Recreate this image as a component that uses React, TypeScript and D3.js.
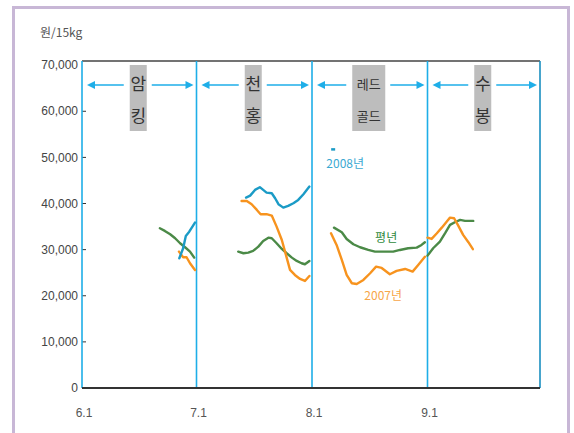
import React from 'react';
import * as d3 from 'd3';

// ---- data ----
const monthTickLabels = ['6.1', '7.1', '8.1', '9.1'];
const monthTickDays = [0, 30, 61, 92];
const seasonEndDay = 122;
const yTickValues = [0, 10000, 20000, 30000, 40000, 50000, 60000, 70000];

const varietyNames = [['암', '킹'], ['천', '홍'], ['레드', '골드'], ['수', '봉']];
const varietyStartDays = [0, 30, 61, 92];
const varietyEndDays = [30, 61, 92, 122];

// [day since 6/1, won per 15kg]
const amking2008: [number, number][] = [
  [25.5, 28130], [26.5, 30300], [27.2, 32970], [28.1, 33900], [29.6, 35860],
];
const amking2007: [number, number][] = [
  [25.4, 29570], [26.5, 28350], [27.4, 28350], [28.3, 27050], [29.6, 25600],
];
const amkingNormal: [number, number][] = [
  [20.4, 34640], [21.7, 34060], [23.1, 33340], [24.4, 32470], [25.7, 31390],
  [27.0, 30520], [28.3, 29570], [29.4, 28270],
];

const cheonhong2008: [number, number][] = [
  [43.3, 41280], [44.4, 41710], [45.7, 42950], [47.0, 43540], [47.9, 42950],
  [48.8, 42360], [50.2, 42230], [51.1, 41150], [52.0, 39850], [53.3, 39110],
  [54.6, 39480], [56.0, 40060], [57.3, 40780], [58.7, 42020], [60.3, 43670],
];
const cheonhong2007: [number, number][] = [
  [42.1, 40560], [43.5, 40560], [44.8, 39850], [46.2, 38610], [47.2, 37680],
  [48.8, 37680], [50.2, 37380], [51.5, 34990], [52.9, 32100], [54.0, 28850],
  [55.1, 25600], [56.4, 24510], [57.8, 23640], [59.1, 23210], [60.3, 24300],
];
const cheonhongNormal: [number, number][] = [
  [41.2, 29570], [42.6, 29220], [43.9, 29350], [45.2, 29720], [46.6, 30650],
  [47.9, 31890], [49.3, 32600], [50.2, 32470], [51.5, 31390], [52.9, 30150],
  [54.2, 29220], [55.6, 28270], [56.9, 27550], [58.2, 27050], [59.1, 26830],
  [60.3, 27550],
];

const redgold2007: [number, number][] = [
  [66.1, 33560], [67.6, 31020], [69.0, 27770], [70.3, 24510], [71.7, 22710],
  [73.0, 22560], [74.8, 23430], [76.6, 24880], [78.2, 26310], [79.7, 26030],
  [81.9, 24660], [83.7, 25380], [86.0, 25810], [88.0, 25230], [89.5, 26680],
  [91.3, 28480],
];
const redgoldNormal: [number, number][] = [
  [66.9, 34770], [69.0, 33770], [70.3, 32320], [72.1, 31170], [73.9, 30520],
  [76.1, 29930], [77.9, 29570], [79.9, 29570], [82.8, 29570], [84.6, 29930],
  [86.8, 30300], [89.1, 30430], [90.4, 31020], [91.3, 31610],
];

const subong2007: [number, number][] = [
  [92.0, 32600], [93.1, 32320], [94.5, 33560], [95.8, 34770], [97.1, 36070],
  [98.0, 36940], [99.1, 36810], [100.2, 35210], [101.5, 33190], [102.9, 31610],
  [104.1, 30090],
];
const subongNormal: [number, number][] = [
  [92.0, 28700], [93.5, 30300], [95.3, 31740], [96.7, 33560], [98.0, 35360],
  [99.3, 35940], [100.7, 36440], [102.0, 36230], [104.2, 36230],
];

const seriesNames = ['2008년', '평년', '2007년'];
const seriesLabelDays = [69.9, 80.9, 80.1];
const seriesLabelValues = [48700, 32600, 19900];

const C2008 = '#1b9bc6';
const C2007 = '#f7931e';
const CNORM = '#4b8a47';
const CCYAN = '#1eaee8';

export default function App() {
  const W = 574, H = 433;
  const x = d3.scaleLinear()
    .domain([...monthTickDays, seasonEndDay])
    .range([82, 196.5, 312, 427.5, 540]);
  const y = d3.scaleLinear().domain([0, 70900]).range([388, 61]);
  const line = d3.line<[number, number]>().x(d => x(d[0])).y(d => y(d[1]));

  const sets: [[number, number][], string][] = [
    [amkingNormal, CNORM], [amking2007, C2007], [amking2008, C2008],
    [cheonhongNormal, CNORM], [cheonhong2007, C2007], [cheonhong2008, C2008],
    [redgoldNormal, CNORM], [redgold2007, C2007],
    [subongNormal, CNORM], [subong2007, C2007],
  ];

  const x0 = x(0), x1 = x(seasonEndDay), yTop = y.range()[1], yBot = y(0);
  const arrowY = 85;
  const numFont = '"Liberation Sans", Arial, sans-serif';
  const korFont = '"Noto Sans CJK KR", "Liberation Sans", sans-serif';

  const arrowHead = (tipX: number, dir: number) => {
    const L = 8, hw = 4;
    return `M${tipX},${arrowY} L${tipX - dir * L},${arrowY - hw} L${tipX - dir * L},${arrowY + hw} Z`;
  };

  return (
    <svg width={W} height={H} style={{ position: 'absolute', left: 0, top: 0, background: '#fff' }}>
      {/* outer frame */}
      <rect x={13.5} y={7.5} width={555} height={440} fill="none" stroke="#c8b7d6" strokeWidth={3} />

      {/* axis title */}
      <text x={40} y={37} fontFamily={korFont} fontSize={12} fill="#555">원/15kg</text>

      {/* top border */}
      <line x1={x0} x2={x1} y1={yTop} y2={yTop} stroke="#444" strokeWidth={1.5} />

      {/* y ticks and labels */}
      {yTickValues.map(v => (
        <g key={v}>
          {v > 0 && v < 70000 && (
            <line x1={x0} x2={x0 + 4} y1={y(v)} y2={y(v)} stroke="#333" strokeWidth={1} />
          )}
          <text x={78} y={y(v)} dy="0.35em" textAnchor="end" fontFamily={numFont} fontSize={12} fill="#444">
            {d3.format(',')(v)}
          </text>
        </g>
      ))}

      {/* month boundary lines */}
      {[...monthTickDays, seasonEndDay].map((d, i) => (
        <line key={i} x1={x(d)} x2={x(d)} y1={yTop} y2={yBot}
          stroke={i === 4 ? '#1a8fc0' : CCYAN} strokeWidth={1.6} />
      ))}

      {/* bottom axis */}
      <line x1={x0} x2={x1} y1={yBot} y2={yBot} stroke="#333" strokeWidth={2} />
      {monthTickLabels.map((l, i) => (
        <text key={l} x={x(monthTickDays[i]) + 2} y={413} dy="0.35em" textAnchor="middle"
          fontFamily={numFont} fontSize={12} fill="#555">{l}</text>
      ))}

      {/* variety labels with arrows */}
      {varietyNames.map((nm, i) => {
        const a = x(varietyStartDays[i]), b = x(varietyEndDays[i]);
        const cx = (a + b) / 2 - 1;
        const bw = nm[0].length > 1 ? 33 : 17;
        const bx1 = cx - bw / 2, bx2 = cx + bw / 2;
        const fs = nm[0].length > 1 ? 13 : 17;
        const tipL = a + 5, tipR = b - 3;
        return (
          <g key={i}>
            <rect x={bx1} y={65} width={bw} height={66} fill="#bdbdbd" />
            <text x={cx} y={84} dy="0.35em" textAnchor="middle" fontFamily={korFont} fontSize={fs} fill="#333">{nm[0]}</text>
            <text x={cx} y={116} dy="0.35em" textAnchor="middle" fontFamily={korFont} fontSize={fs} fill="#333">{nm[1]}</text>
            <line x1={tipL + 6} x2={bx1 - 6} y1={arrowY} y2={arrowY} stroke={CCYAN} strokeWidth={1.5} />
            <path d={arrowHead(tipL, -1)} fill={CCYAN} />
            <line x1={bx2 + 5} x2={tipR - 6} y1={arrowY} y2={arrowY} stroke={CCYAN} strokeWidth={1.5} />
            <path d={arrowHead(tipR, 1)} fill={CCYAN} />
          </g>
        );
      })}

      {/* data lines */}
      {sets.map(([data, color], i) => (
        <path key={i} d={line(data) || ''} fill="none" stroke={color} strokeWidth={2.4}
          strokeLinejoin="round" strokeLinecap="round" />
      ))}

      {/* series labels */}
      <line x1={x(seriesLabelDays[0]) - 14} x2={x(seriesLabelDays[0]) - 10}
        y1={y(seriesLabelValues[0]) - 14} y2={y(seriesLabelValues[0]) - 14} stroke={C2008} strokeWidth={2.5} />
      <text x={x(seriesLabelDays[0])} y={y(seriesLabelValues[0])} dy="0.35em" textAnchor="middle"
        fontFamily={korFont} fontSize={12} fill="#3aa9d2">{seriesNames[0]}</text>
      <text x={x(seriesLabelDays[1])} y={y(seriesLabelValues[1])} dy="0.35em" textAnchor="middle"
        fontFamily={korFont} fontSize={12} fill="#2f8a3c">{seriesNames[1]}</text>
      <text x={x(seriesLabelDays[2])} y={y(seriesLabelValues[2])} dy="0.35em" textAnchor="middle"
        fontFamily={korFont} fontSize={12} fill="#f7a648">{seriesNames[2]}</text>
    </svg>
  );
}
